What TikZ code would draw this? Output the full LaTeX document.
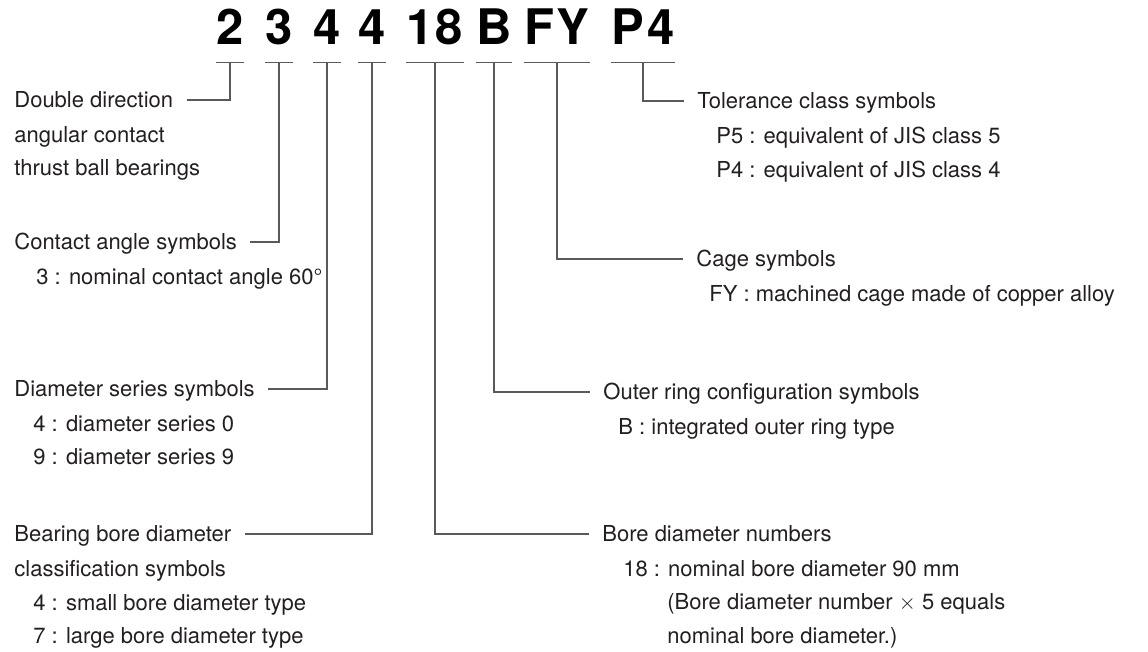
\documentclass[tikz,border=0pt]{standalone}
\usepackage{fontspec}
\setmainfont{TeX Gyre Heros}
\usetikzlibrary{positioning}
\definecolor{ink}{HTML}{231F20}
\definecolor{rule}{HTML}{5A5A5A}

\begin{document}
\begin{tikzpicture}[
    x=0.5pt, y=-0.5pt,
    code/.style={font=\fontsize{24.5pt}{28pt}\selectfont\bfseries, inner xsep=0pt, inner ysep=8.5pt, anchor=base},
    lbl/.style={font=\fontsize{11pt}{16.75pt}\selectfont, text=ink, inner sep=0pt, text height=7.9pt, text depth=0pt, anchor=west},
    sub/.style={font=\fontsize{11pt}{16.75pt}\selectfont, text=ink, inner sep=0pt, align=left},
    bar/.style={draw=rule, line width=0.6pt},
    lead/.style={bar, shorten >=6.5pt}
]
    \useasboundingbox (0,0) rectangle (1148,652);

    \node[code] (c1) at (230,45) {2};
    \node[code] (c2) at (279,45) {3};
    \node[code] (c3) at (327,45) {4};
    \node[code] (c4) at (372,45) {4};
    \node[code] (c5) at (435,45) {1\kern1pt 8};
    \node[code] (c6) at (494,45) {B};
    \node[code] (c7) at (557,45) {F\kern1pt Y};
    \node[code] (c8) at (643,45) {P\kern1.5pt 4};
    \foreach \i in {1,...,8}
        \draw[bar] (c\i.south west) -- (c\i.south east);

    \node[lbl] (dd) at (14,100) {Double direction};
    \node[sub, below right=8.85pt and 0pt of dd.south west] (dds) {angular contact\\thrust ball bearings};

    \node[lbl] (ca) at (14,242) {Contact angle symbols};
    \node[sub, below right=8.85pt and 11pt of ca.south west] (cas) {3 : nominal contact angle 60°};

    \node[lbl] (ds) at (14,389) {Diameter series symbols};
    \node[sub, below right=8.85pt and 9.5pt of ds.south west] (dss) {4 : diameter series 0\\9 : diameter series 9};

    \node[lbl] (bb) at (14,534) {Bearing bore diameter};
    \node[sub, below right=8.85pt and 0pt of bb.south west] (bbs) {classification symbols\\\hspace*{9.5pt}4 : small bore diameter type\\\hspace*{9.5pt}7 : large bore diameter type};

    \node[lbl] (tc) at (697,101) {Tolerance class symbols};
    \node[sub, below right=8.85pt and 9.5pt of tc.south west] (tcs) {P5 : equivalent of JIS class 5\\P4 : equivalent of JIS class 4};

    \node[lbl] (cg) at (696,259) {Cage symbols};
    \node[sub, below right=8.85pt and 6.5pt of cg.south west] (cgs) {FY : machined cage made of copper alloy};

    \node[lbl] (orc) at (603,392) {Outer ring configuration symbols};
    \node[sub, below right=8.85pt and 7.5pt of orc.south west] (orcs) {B : integrated outer ring type};

    \node[lbl] (bn) at (602,534) {Bore diameter numbers};
    \node[sub, below right=8.85pt and 10.5pt of bn.south west] (bns) {18 : nominal bore diameter 90 mm\\\hspace*{22pt}(Bore diameter number \(\times\) 5 equals\\\hspace*{22pt}nominal bore diameter.)};

    \draw[lead] (c1.south) |- (dd.east);
    \draw[lead] (c2.south) |- (ca.east);
    \draw[lead] (c3.south) |- (ds.east);
    \draw[lead] (c4.south) |- (bb.east);
    \draw[lead] (c5.south) |- (bn.west);
    \draw[lead] (c6.south) |- (orc.west);
    \draw[lead] (c7.south) |- (cg.west);
    \draw[lead] (c8.south) |- (tc.west);
\end{tikzpicture}
\end{document}
